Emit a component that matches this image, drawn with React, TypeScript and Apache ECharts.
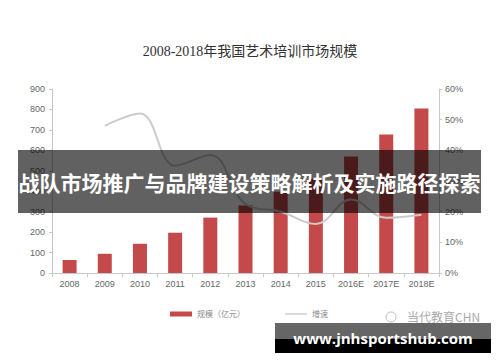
import React, { useEffect, useRef } from "react";
import * as echarts from "echarts";

const categories = ["2008", "2009", "2010", "2011", "2012", "2013", "2014", "2015", "2016E", "2017E", "2018E"];
const marketSize = [64, 94, 143, 197, 271, 330, 398, 462, 570, 678, 805];
const growthRate = [null, 48, 52, 35, 38.5, 22.5, 20, 16, 24, 18, 19];
const leftTicks = { min: 0, max: 900, interval: 100 };
const rightTicks = { min: 0, max: 60, interval: 10 };

const chartTitle = "2008-2018年我国艺术培训市场规模";
const overlayTitle = "战队市场推广与品牌建设策略解析及实施路径探索";
const watermark = "www.jnhsportshub.com";
const sourceMark = "当代教育CHN";

export default function App() {
  const ref = useRef<HTMLDivElement>(null);
  useEffect(() => {
    if (!ref.current) return;
    const chart = echarts.init(ref.current, null, { renderer: "svg" });
    const axisColor = "#c8c8c8";
    const labelStyle = { color: "#666", fontSize: 9, fontFamily: "'Liberation Sans', Arial, sans-serif" };
    chart.setOption({
      animation: false,
      backgroundColor: "#ffffff",
      title: {
        text: chartTitle,
        left: 245,
        top: 39,
        textAlign: "center",
        textStyle: {
          fontSize: 14,
          fontWeight: "normal",
          color: "#333",
          fontFamily: "'Liberation Serif', 'Noto Sans CJK SC', serif",
        },
      },
      legend: {
        left: 165,
        top: 305,
        itemGap: 40,
        itemWidth: 22,
        itemHeight: 5,
        textStyle: { color: "#888", fontSize: 8, fontFamily: "'Noto Sans CJK SC', sans-serif" },
        data: [
          { name: "规模（亿元）", icon: "rect" },
          { name: "增速", icon: "path://M0 0H22V1.2H0Z", itemStyle: { color: "#c4c4c4" } },
        ],
      },
      grid: { left: 52, right: 61, top: 89, bottom: 89 },
      xAxis: {
        type: "category",
        data: categories,
        axisLine: { lineStyle: { color: axisColor } },
        axisTick: { show: true, length: 4, lineStyle: { color: axisColor } },
        axisLabel: { ...labelStyle, margin: 6 },
      },
      yAxis: [
        {
          type: "value",
          ...leftTicks,
          splitLine: { show: false },
          axisLine: { show: true, lineStyle: { color: axisColor } },
          axisTick: { show: true, length: 3, lineStyle: { color: axisColor } },
          axisLabel: { ...labelStyle, margin: 7 },
        },
        {
          type: "value",
          ...rightTicks,
          splitLine: { show: false },
          axisLine: { show: true, lineStyle: { color: axisColor } },
          axisTick: { show: true, length: 3, lineStyle: { color: axisColor } },
          axisLabel: { ...labelStyle, margin: 6, formatter: "{value}%" },
        },
      ],
      series: [
        {
          name: "规模（亿元）",
          type: "bar",
          data: marketSize,
          barWidth: 14,
          itemStyle: { color: "#c4494b" },
        },
        {
          name: "增速",
          type: "line",
          yAxisIndex: 1,
          data: growthRate,
          smooth: 0.4,
          symbol: "none",
          lineStyle: { color: "#cbcbcb", width: 2 },
          itemStyle: { color: "#cbcbcb" },
        },
      ],
      graphic: [
        {
          type: "rect",
          z: 100,
          shape: { x: 18, y: 150, width: 463, height: 63 },
          style: { fill: "rgba(0,0,0,0.62)" },
        },
        {
          type: "text",
          z: 101,
          x: 249.5,
          y: 182,
          style: {
            text: overlayTitle,
            fill: "#ffffff",
            fontSize: 21,
            fontWeight: "bold",
            fontFamily: "'Noto Sans CJK SC', sans-serif",
            textAlign: "center",
            textVerticalAlign: "middle",
          },
        },
        {
          type: "text",
          z: 99,
          x: 407,
          y: 316,
          style: {
            text: sourceMark,
            fill: "#aaa",
            fontSize: 12,
            fontFamily: "'Noto Sans CJK SC', sans-serif",
            textVerticalAlign: "middle",
          },
        },
        {
          type: "circle",
          z: 99,
          shape: { cx: 391, cy: 317, r: 5 },
          style: { fill: "none", stroke: "#bbb", lineWidth: 1 },
        },
        {
          type: "rect",
          z: 100,
          shape: { x: 275, y: 323, width: 216, height: 16 },
          style: { fill: "rgba(0,0,0,0.6)" },
        },
        {
          type: "rect",
          z: 100,
          shape: { x: 275, y: 339, width: 216, height: 14 },
          style: { fill: "#000" },
        },
        {
          type: "text",
          z: 101,
          x: 383,
          y: 338,
          style: {
            text: watermark,
            fill: "#ffffff",
            fontSize: 15,
            fontWeight: "bold",
            fontFamily: "'Open Sans', 'DejaVu Sans', sans-serif",
            textAlign: "center",
            textVerticalAlign: "middle",
          },
        },
      ],
    });
    return () => chart.dispose();
  }, []);
  return (
    <div
      ref={ref}
      style={{ position: "absolute", left: 0, top: 0, width: 500, height: 362 }}
    />
  );
}
